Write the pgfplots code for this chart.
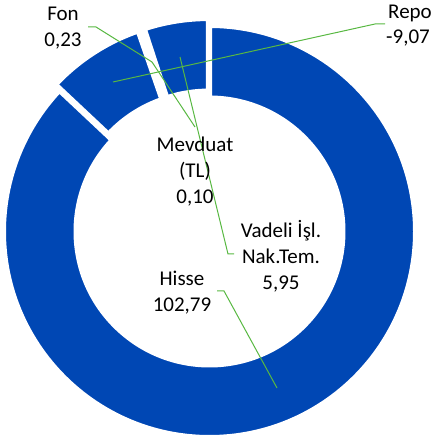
\documentclass[border=0pt]{standalone}
\usepackage{fontspec}
\setmainfont{Carlito}
\usepackage{pgfplots}
\usepackage{pgfplotstable}
\pgfplotsset{compat=1.18}
\definecolor{donutblue}{RGB}{0,71,180}
\definecolor{leader}{RGB}{88,184,66}

\pgfplotstableread[col sep=comma]{
label,value,explode
Hisse,102.79,0
Repo,-9.07,7
Mevduat,0.10,0
Fon,0.23,0
Vadeli,5.95,7
}\donutdata

\def\cx{209.5}
\def\cy{209.5}
\def\Rout{206}
\def\Rin{133.5}

\begin{document}
\begin{tikzpicture}
\useasboundingbox (0,0) rectangle (433pt,441pt);
\pgfplotstablegetrowsof{\donutdata}
\pgfmathtruncatemacro{\nrows}{\pgfplotsretval-1}
\gdef\total{0}
\foreach \i in {0,...,\nrows}{
  \pgfplotstablegetelem{\i}{value}\of\donutdata
  \pgfmathsetmacro{\t}{\total+abs(\pgfplotsretval)}
  \global\let\total\t
}
\gdef\cum{0}
\foreach \i in {0,...,\nrows}{
  \pgfplotstablegetelem{\i}{value}\of\donutdata
  \pgfmathsetmacro{\s}{90-360*(\cum/\total)}
  \pgfmathsetmacro{\newcum}{\cum+abs(\pgfplotsretval)}
  \pgfmathsetmacro{\e}{90-360*(\newcum/\total)}
  \pgfplotstablegetelem{\i}{explode}\of\donutdata
  \pgfmathsetmacro{\m}{(\s+\e)/2}
  \pgfmathsetmacro{\ox}{\cx+\pgfplotsretval*cos(\m)}
  \pgfmathsetmacro{\oy}{\cy+\pgfplotsretval*sin(\m)}
  \pgfmathsetmacro{\xa}{\ox+\Rout*cos(\s)}
  \pgfmathsetmacro{\ya}{\oy+\Rout*sin(\s)}
  \pgfmathsetmacro{\xb}{\ox+\Rin*cos(\e)}
  \pgfmathsetmacro{\yb}{\oy+\Rin*sin(\e)}
  \expandafter\xdef\csname ws\i\endcsname{\s}
  \expandafter\xdef\csname we\i\endcsname{\e}
  \expandafter\xdef\csname xa\i\endcsname{\xa}
  \expandafter\xdef\csname ya\i\endcsname{\ya}
  \expandafter\xdef\csname xb\i\endcsname{\xb}
  \expandafter\xdef\csname yb\i\endcsname{\yb}
  \global\let\cum\newcum
}
\begin{axis}[x=1pt,y=1pt,xmin=0,xmax=433,ymin=0,ymax=441,hide axis,clip=false,
  anchor=origin, at={(0,0)}]
\pgfplotsinvokeforeach{0,...,4}{
  \fill[donutblue, draw=white, line width=5pt]
    (axis cs:\csname xa#1\endcsname,\csname ya#1\endcsname)
    arc[start angle=\csname ws#1\endcsname, end angle=\csname we#1\endcsname, radius=\Rout pt]
    -- (axis cs:\csname xb#1\endcsname,\csname yb#1\endcsname)
    arc[start angle=\csname we#1\endcsname, end angle=\csname ws#1\endcsname, radius=\Rin pt]
    -- cycle;
}
% leader lines
\draw[leader, line width=1pt] (axis cs:88,414) -- (axis cs:96,414) -- (axis cs:152,379);
\draw[leader, line width=1pt] (axis cs:195,314) -- (axis cs:152,379);
\draw[leader, line width=1pt] (axis cs:234,187) -- (axis cs:228,187) -- (axis cs:180,384);
\draw[leader, line width=1pt] (axis cs:217,150) -- (axis cs:224,150) -- (axis cs:277,53);
\draw[leader, line width=1pt] (axis cs:385,417) -- (axis cs:375,417) -- (axis cs:113,359);
% labels
\tikzset{lbl/.style={align=center, inner sep=0pt, font=\fontsize{21}{26}\selectfont, text=black}}
\node[lbl] at (axis cs:63,413) {Fon\\0,23};
\node[lbl, anchor=east] at (axis cs:432,428) {Repo};
\node[lbl, anchor=west] at (axis cs:386,403) {-9,07};
\node[lbl] at (axis cs:195,269) {Mevduat\\(TL)\\0,10};
\node[lbl] at (axis cs:281,185) {Vadeli İşl.\\Nak.Tem.\\5,95};
\node[lbl] at (axis cs:182,148) {Hisse\\102,79};
\end{axis}
\end{tikzpicture}
\end{document}
